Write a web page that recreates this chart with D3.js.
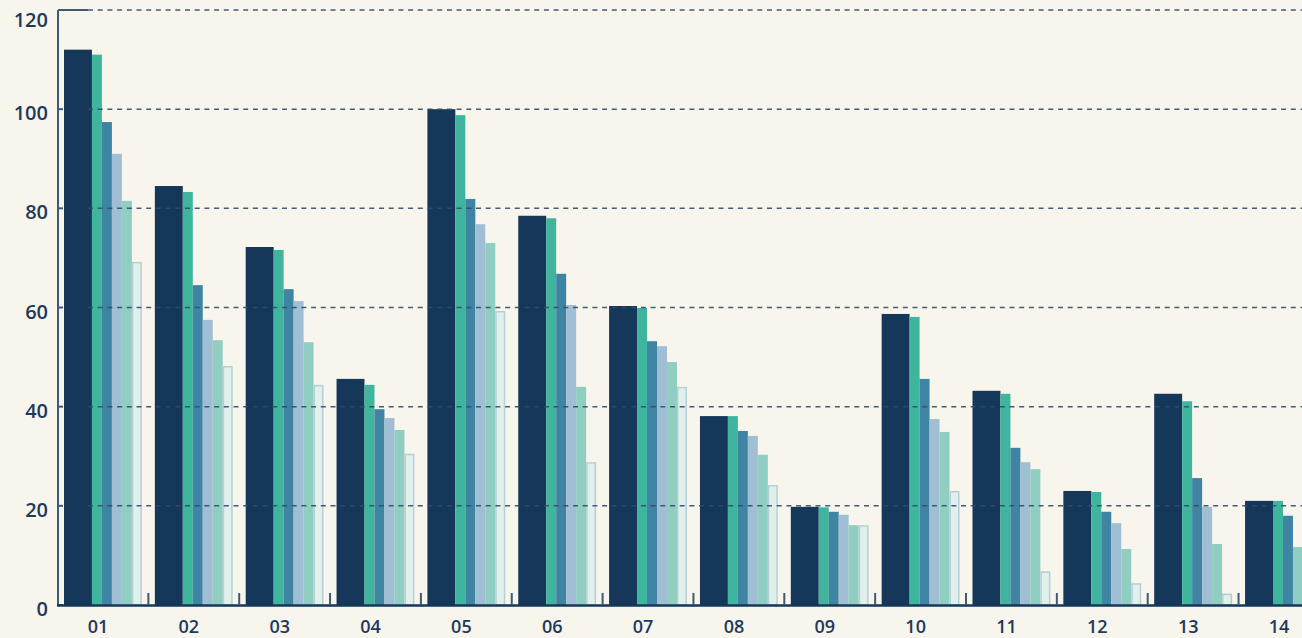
<!DOCTYPE html>
<html>
<head>
<meta charset="utf-8">
<script src="https://cdn.jsdelivr.net/npm/d3@7"></script>
<style>
  html, body { margin: 0; padding: 0; background: #f8f5ed; }
  svg { display: block; }
  text { font-family: "Open Sans", "Noto Sans", sans-serif; font-weight: 600; fill: #1d3a5c; }
</style>
</head>
<body>
<div id="chart"></div>
<script>
// values, one array per series
var categories = ['01','02','03','04','05','06','07','08','09','10','11','12','13','14'];
var serieA = [112, 84.5, 72.2, 45.6, 100, 78.5, 60.3, 38.1, 19.8, 58.7, 43.2, 23, 42.6, 21];
var serieB = [111, 83.3, 71.6, 44.4, 98.8, 78, 59.9, 38.1, 19.7, 58.1, 42.6, 22.8, 41.1, 21];
var serieC = [97.4, 64.5, 63.7, 39.5, 81.9, 66.8, 53.2, 35.1, 18.8, 45.6, 31.7, 18.8, 25.6, 18];
var serieD = [91, 57.5, 61.3, 37.7, 76.8, 60.5, 52.2, 34.1, 18.2, 37.5, 28.8, 16.5, 19.8, null];
var serieE = [81.5, 53.4, 53, 35.3, 73, 44, 49, 30.3, 16.1, 34.9, 27.4, 11.3, 12.3, 11.7];
var serieF = [69.2, 48.2, 44.4, 30.5, 59.3, 28.8, 44, 24.2, 16.1, 23, 6.8, 4.4, 2.3, null];
var yTicks = [0, 20, 40, 60, 80, 100, 120];

var series  = [serieA, serieB, serieC, serieD, serieE, serieF];
var colors  = ['#153759', '#3fb59e', '#3f84a3', '#a1bfd4', '#8fcec0', '#e2f0ec'];
var slotW   = [28, 10, 10, 10, 10, 10]; // relative widths inside a group

var width  = 1302;
var height = 638;
var x0     = 57.5;
var step   = 90.85;
var base   = 605;

var svg = d3.select('#chart').append('svg')
            .attr('width', width)
            .attr('height', height);

var pad = 13 / step;
var x = d3.scaleBand()
          .domain(categories)
          .range([x0, x0 + categories.length * step])
          .paddingInner(pad)
          .paddingOuter(pad / 2);

var y = d3.scaleLinear().domain([0, 120]).range([base, 10]);

var slotTotal = d3.sum(slotW);
var k = x.bandwidth() / slotTotal;

// bars, packed left inside each group (missing values are skipped)
categories.forEach(function(cat, i) {
  var off = x(cat);
  series.forEach(function(s, j) {
    var v = s[i];
    if (v == null) return;
    var w = slotW[j] * k;
    var r = svg.append('rect')
       .attr('x', off)
       .attr('y', y(v))
       .attr('width', w)
       .attr('height', base - y(v))
       .attr('fill', colors[j]);
    if (j == 5) {
      r.attr('x', off + 0.75).attr('width', w - 1.5)
       .attr('y', y(v) + 0.75).attr('height', base - y(v) - 0.75)
       .attr('stroke', '#b4cfda').attr('stroke-width', 1.5);
    }
    off += w;
  });
});

// dashed grid, on top of the bars
svg.append('g').selectAll('line')
   .data(yTicks.filter(function(d) { return d > 0; }))
   .enter().append('line')
   .attr('x1', 88).attr('x2', width)
   .attr('y1', function(d) { return y(d); })
   .attr('y2', function(d) { return y(d); })
   .attr('stroke', '#2f4c6c')
   .attr('stroke-width', 1.5)
   .attr('stroke-dasharray', '5,4.7')
   .attr('opacity', 0.9);

// y axis: line, small inward ticks, top cap
svg.append('line')
   .attr('x1', 58).attr('x2', 58)
   .attr('y1', y(120)).attr('y2', base)
   .attr('stroke', '#3e5a78').attr('stroke-width', 2);
svg.append('g').selectAll('line')
   .data(yTicks)
   .enter().append('line')
   .attr('x1', 58)
   .attr('x2', function(d) { return d == 120 ? 88 : 63; })
   .attr('y1', function(d) { return y(d); })
   .attr('y2', function(d) { return y(d); })
   .attr('stroke', '#3e5a78').attr('stroke-width', 2);

svg.append('g').selectAll('text')
   .data(yTicks)
   .enter().append('text')
   .attr('x', 48)
   .attr('y', function(d) { return Math.max(y(d) + 11, 26.5); })
   .attr('text-anchor', 'end')
   .style('font-size', '20px')
   .text(function(d) { return d; });

// x axis line + separators between groups
svg.append('line')
   .attr('x1', 57).attr('x2', width)
   .attr('y1', base + 0.5).attr('y2', base + 0.5)
   .attr('stroke', '#153759').attr('stroke-width', 2.5);

svg.append('g').selectAll('line')
   .data(categories.slice(1))
   .enter().append('line')
   .attr('x1', function(d) { return x(d) - 6.5; })
   .attr('x2', function(d) { return x(d) - 6.5; })
   .attr('y1', base - 12).attr('y2', base)
   .attr('stroke', '#3e5a78').attr('stroke-width', 2);

svg.append('g').selectAll('text')
   .data(categories)
   .enter().append('text')
   .attr('x', function(d) { return x(d) + 34; })
   .attr('y', 633)
   .attr('text-anchor', 'middle')
   .style('font-size', '18px')
   .text(function(d) { return d; });
</script>
</body>
</html>
